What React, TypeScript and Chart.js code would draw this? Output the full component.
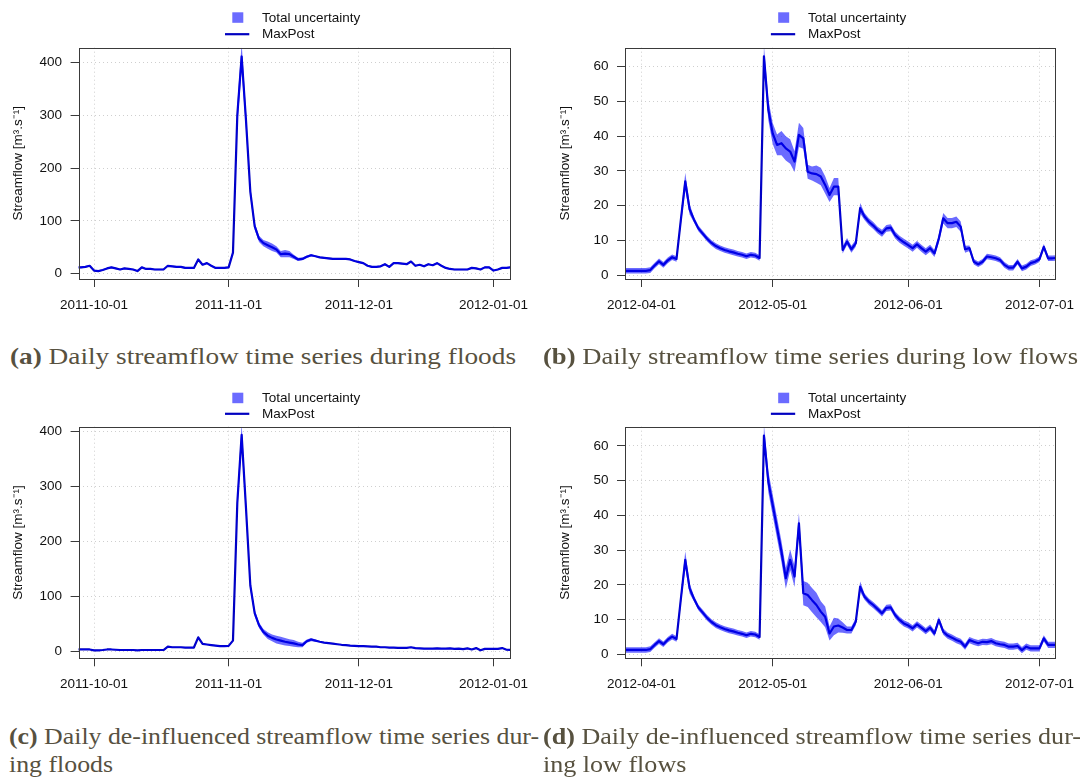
import React, { useEffect, useLayoutEffect, useRef } from 'react';
import { Chart, registerables } from 'chart.js';

Chart.register(...registerables);

// ---------- data ----------
// day offsets: flood panels relative to 2011-10-01, low-flow panels relative to 2012-04-01
const floodStartDay = -4;
const lowStartDay = -4;

const floodTickDays = [0, 31, 61, 92];
const floodTickLabels = ['2011-10-01', '2011-11-01', '2011-12-01', '2012-01-01'];
const lowTickDays = [0, 30, 61, 91];
const lowTickLabels = ['2012-04-01', '2012-05-01', '2012-06-01', '2012-07-01'];
const floodYTicks = [0, 100, 200, 300, 400];
const lowYTicks = [0, 10, 20, 30, 40, 50, 60];
const legendLabels = ['Total uncertainty', 'MaxPost'];
const yAxisTitle = 'Streamflow [m\u00B3.s\u207B\u00B9]';

// (a) daily streamflow during floods (MaxPost) and uncertainty half-width
const maxPostA = [
  12, 12, 13, 15, 6, 5, 7, 10, 12, 10,
  8, 10, 9, 8, 5, 12, 9, 9, 8, 8,
  8, 15, 14, 13, 13, 11, 11, 11, 27, 17,
  20, 15, 11, 11, 11, 12, 40, 300, 411, 290,
  155, 90, 66, 58, 54, 50, 46, 37, 38, 37,
  32, 27, 28, 32, 35, 33, 31, 30, 29, 28,
  28, 28, 28, 27, 24, 22, 20, 15, 13, 13,
  14, 18, 13, 20, 20, 19, 18, 23, 15, 17,
  14, 18, 16, 20, 15, 11, 9, 8, 8, 8,
  8, 11, 10, 8, 12, 12, 6, 8, 11, 11,
  12,
];
const uncA = [
  1.5, 1.5, 1.5, 1.5, 1.5, 1.5, 1.5, 1.5, 1.5, 1.5,
  1.5, 1.5, 1.5, 1.5, 1.5, 1.5, 1.5, 1.5, 1.5, 1.5,
  1.5, 1.5, 1.5, 1.5, 1.5, 1.5, 1.5, 1.5, 1.5, 1.5,
  1.5, 1.5, 1.5, 1.5, 1.5, 1.5, 4, 20, 25, 18,
  10, 7, 6, 6, 7, 7, 6, 6, 7, 6,
  4, 3, 2.5, 2.5, 2.5, 1.5, 1.5, 1.5, 1.5, 1.5,
  1.5, 1.5, 1.5, 1.5, 1.5, 1.5, 1.5, 1.5, 1.5, 1.5,
  1.5, 1.5, 1.5, 1.5, 1.5, 1.5, 1.5, 1.5, 1.5, 1.5,
  1.5, 1.5, 1.5, 1.5, 1.5, 1.5, 1.5, 1.5, 1.5, 1.5,
  1.5, 1.5, 1.5, 1.5, 1.5, 1.5, 1.5, 1.5, 1.5, 1.5,
  1.5,
];

// (b) daily streamflow during low flows
const maxPostB = [
  1.3, 1.3, 1.3, 1.3, 1.3, 1.3, 1.5, 2.8, 4.0, 3.0,
  4.3, 5.2, 4.7, 16, 27, 19, 16, 13.5, 12, 10.5,
  9.3, 8.4, 7.8, 7.3, 6.9, 6.6, 6.2, 5.9, 5.5, 5.9,
  5.7, 5.0, 63, 47.6, 40.8, 37.5, 38, 36.5, 35.6, 32.7,
  40.4, 39.4, 29.8, 29.3, 29.1, 28.4, 26, 23.1, 25.5, 25.5,
  7.3, 9.7, 7.5, 9.2, 19.3, 16.9, 15.4, 14.3, 13, 12.1,
  13.5, 13.7, 11.6, 10.4, 9.5, 8.7, 7.8, 8.9, 7.8, 6.8,
  7.8, 6.3, 10.6, 16.4, 15, 15, 15.4, 14, 7.5, 7.8,
  3.9, 3.2, 3.9, 5.4, 5.2, 4.9, 4.4, 3, 2.2, 2.2,
  3.9, 2, 2.5, 3.5, 3.9, 4.6, 8.2, 4.9, 4.9, 5,
];
const uncB = [
  0.8, 0.8, 0.8, 0.8, 0.8, 0.8, 0.8, 0.8, 0.8, 0.8,
  0.8, 0.8, 0.8, 1.5, 2.5, 1.5, 0.8, 0.8, 0.8, 0.8,
  0.8, 0.8, 0.8, 0.8, 0.8, 0.8, 0.8, 0.8, 0.8, 0.8,
  0.8, 0.8, 3, 3, 3, 3, 3.5, 3.5, 3.5, 3,
  3.5, 3, 2, 2, 2.5, 2.5, 2.5, 2, 2.5, 2.5,
  1, 1, 1, 1, 1.5, 1, 1, 1, 1, 1,
  1, 1, 1, 1, 1, 1, 1, 1, 1, 1,
  1, 1, 1.2, 1.5, 1.5, 1.5, 1.5, 1.5, 1, 0.8,
  0.8, 0.8, 0.8, 0.8, 0.8, 0.8, 0.8, 0.8, 0.8, 0.8,
  0.8, 0.8, 0.8, 0.8, 0.8, 0.8, 0.8, 0.8, 0.8, 0.8,
];

// (c) daily de-influenced streamflow during floods
const maxPostC = [
  4, 4, 4, 4, 2.5, 2.5, 3, 4, 4, 3.5,
  3, 3, 3, 3, 2.5, 3, 3, 3, 3, 3,
  3, 9, 8, 8, 8, 7.5, 7.5, 7.5, 26, 14,
  13, 12, 11, 10, 10, 10.5, 20, 270, 393, 260,
  120, 70, 48, 36, 29, 25, 22, 20, 18, 16.5,
  15, 13, 12, 19, 22, 20, 18, 16.5, 15.5, 14.5,
  13.5, 12.5, 12, 11, 10.5, 10, 10, 9.5, 9, 9,
  8, 8, 7.5, 7.5, 7, 7, 7, 8, 6.5, 6,
  5.5, 5.5, 5.5, 6, 5.5, 5.5, 6, 5, 5.5, 4.5,
  6, 4, 6.5, 2.5, 5, 5, 5, 5, 6.5, 3.5,
  3,
];
const uncC = [
  1, 1, 1, 1, 1, 1, 1, 1, 1, 1,
  1, 1, 1, 1, 1, 1, 1, 1, 1, 1,
  1, 1, 1, 1, 1, 1, 1, 1, 1, 1,
  1, 1, 1, 1, 1, 1, 1, 15, 20, 15,
  8, 6, 5, 5, 6, 6, 7, 7, 7, 6,
  6, 5, 4, 3, 3, 2, 1, 1, 1, 1,
  1, 1, 1, 1, 1, 1, 1, 1, 1, 1,
  1, 1, 1, 1, 1, 1, 1, 1, 1, 1,
  1, 1, 1, 1, 1, 1, 1, 1, 1, 1,
  1, 1, 1, 1, 1, 1, 1, 1, 1, 1,
  1,
];

// (d) daily de-influenced streamflow during low flows
const maxPostD = [
  1.25, 1.25, 1.25, 1.25, 1.25, 1.25, 1.5, 2.7, 3.8, 2.9,
  4.2, 5.1, 4.4, 16, 27.2, 19, 16, 13.5, 12, 10.5,
  9.3, 8.4, 7.8, 7.3, 6.9, 6.6, 6.2, 5.9, 5.5, 5.9,
  5.7, 5.0, 63, 49.7, 43, 36.3, 29.6, 21.9, 27.2, 22.4,
  37.7, 17.6, 17.1, 15.6, 14.2, 12.3, 10.8, 6, 8, 8.3,
  7.7, 7, 7, 9.4, 19.5, 16.6, 15.2, 14.2, 13, 11.8,
  13.4, 13.5, 11.3, 9.9, 8.9, 8.3, 7.5, 8.6, 7.7, 6.7,
  7.7, 6, 9.9, 6.5, 5.4, 4.8, 4.1, 3.6, 2.2, 4.1,
  3.6, 3.2, 3.6, 3.5, 3.8, 3.2, 2.9, 2.7, 2.2, 2.2,
  2.4, 1.2, 2.2, 1.7, 1.7, 1.7, 4.6, 2.7, 2.7, 2.7,
];
const uncD = [
  0.8, 0.8, 0.8, 0.8, 0.8, 0.8, 0.8, 0.8, 0.8, 0.8,
  0.8, 0.8, 0.8, 1.5, 2.5, 1.5, 0.8, 0.8, 0.8, 0.8,
  0.8, 0.8, 0.8, 0.8, 0.8, 0.8, 0.8, 0.8, 0.8, 0.8,
  0.8, 0.8, 3, 3, 3, 3, 3, 3, 3, 3,
  3, 3.5, 3.5, 3.5, 3.5, 3, 3, 2, 2.5, 2,
  1.5, 1, 1, 1, 1.5, 0.9, 0.9, 0.9, 0.9, 0.9,
  0.9, 0.9, 0.9, 0.9, 0.9, 0.9, 0.9, 0.9, 0.9, 0.9,
  0.9, 0.9, 0.9, 0.9, 0.9, 0.9, 0.9, 0.9, 0.9, 0.9,
  0.9, 0.9, 0.9, 0.9, 0.9, 0.9, 0.9, 0.9, 0.9, 0.9,
  0.9, 0.9, 0.9, 0.9, 0.9, 0.9, 0.9, 0.9, 0.9, 0.9,
];

const captionLabels = ['(a)', '(b)', '(c)', '(d)'];
const captionLines = [
  ['Daily streamflow time series during floods'],
  ['Daily streamflow time series during low flows'],
  ['Daily de-influenced streamflow time series dur-', 'ing floods'],
  ['Daily de-influenced streamflow time series dur-', 'ing low flows'],
];

// ---------- style ----------
const FONT = "'Liberation Sans', Arial, Helvetica, sans-serif";
const FONT_SIZE = 13.5;
const BAND = 'rgba(0,0,255,0.58)';
const LINE = '#0000c0';
const GRID = '#cfcfcf';
const AXIS = '#3a3a3a';
const TEXT = '#111111';
const CAPTION_COLOR = '#57513f';
const CAPTION_FONT = "'Liberation Serif', 'Times New Roman', serif";

type PanelSpec = {
  left: number; top: number; width: number; height: number;
  area: { left: number; right: number; top: number; bottom: number };
  xMin: number; xMax: number; yMin: number; yMax: number;
  start: number; values: number[]; unc: number[];
  xTicks: number[]; xLabels: string[]; yTicks: number[];
  titlePad: number; labelPad: number; legendY: [number, number];
};

const panels: PanelSpec[] = [
  {
    left: 0, top: 0, width: 560, height: 330,
    area: { left: 78.6, right: 510, top: 47.7, bottom: 279 },
    xMin: -3.55, xMax: 95.8, yMin: -10, yMax: 427.6,
    start: floodStartDay, values: maxPostA, unc: uncA,
    xTicks: floodTickDays, xLabels: floodTickLabels, yTicks: floodYTicks,
    titlePad: 9.9, labelPad: 8.6, legendY: [18.3, 34.7],
  },
  {
    left: 545, top: 0, width: 540, height: 330,
    area: { left: 80, right: 511.4, top: 47.7, bottom: 279 },
    xMin: -3.78, xMax: 94.65, yMin: -1.06, yMax: 65.46,
    start: lowStartDay, values: maxPostB, unc: uncB,
    xTicks: lowTickDays, xLabels: lowTickLabels, yTicks: lowYTicks,
    titlePad: 12.2, labelPad: 8.6, legendY: [18.3, 34.7],
  },
  {
    left: 0, top: 380, width: 560, height: 330,
    area: { left: 78.6, right: 510, top: 46.7, bottom: 278.3 },
    xMin: -3.55, xMax: 95.8, yMin: -12, yMax: 407.8,
    start: floodStartDay, values: maxPostC, unc: uncC,
    xTicks: floodTickDays, xLabels: floodTickLabels, yTicks: floodYTicks,
    titlePad: 9.9, labelPad: 8.6, legendY: [18.7, 34.3],
  },
  {
    left: 545, top: 380, width: 540, height: 330,
    area: { left: 80, right: 511.4, top: 46.7, bottom: 278.3 },
    xMin: -3.78, xMax: 94.65, yMin: -1.15, yMax: 65.55,
    start: lowStartDay, values: maxPostD, unc: uncD,
    xTicks: lowTickDays, xLabels: lowTickLabels, yTicks: lowYTicks,
    titlePad: 12.2, labelPad: 8.6, legendY: [18.7, 34.3],
  },
];

const captionBoxes = [
  { left: 10, right: 516, top: 342 },
  { left: 543, right: 1078, top: 342 },
  { left: 9, right: 539, top: 722 },
  { left: 543, right: 1081, top: 722 },
];

const boxPlugin = {
  id: 'rBox',
  afterDatasetsDraw(chart: any) {
    const { ctx, chartArea: a } = chart;
    ctx.save();
    ctx.strokeStyle = AXIS;
    ctx.lineWidth = 1;
    ctx.setLineDash([]);
    ctx.strokeRect(Math.round(a.left) + 0.5, Math.round(a.top) + 0.5,
      Math.round(a.right) - Math.round(a.left), Math.round(a.bottom) - Math.round(a.top));
    ctx.restore();
  },
};

function makeLegendPlugin(spec: PanelSpec) {
  return {
    id: 'rLegend',
    afterDraw(chart: any) {
      const { ctx, chartArea: a } = chart;
      const ds = chart.data.datasets;
      const cx = (a.left + a.right) / 2;
      const [y1, y2] = spec.legendY;
      ctx.save();
      ctx.fillStyle = ds[1].backgroundColor;
      ctx.fillRect(cx - 56.5 - 5.5, y1 - 6, 11, 10.5);
      ctx.strokeStyle = ds[2].borderColor;
      ctx.lineWidth = 2.2;
      ctx.beginPath();
      ctx.moveTo(cx - 69.3, y2 - 0.5);
      ctx.lineTo(cx - 45, y2 - 0.5);
      ctx.stroke();
      ctx.fillStyle = TEXT;
      ctx.font = `${FONT_SIZE}px ${FONT}`;
      ctx.textAlign = 'left';
      ctx.textBaseline = 'middle';
      ctx.fillText(ds[1].label, cx - 32.3, y1);
      ctx.fillText(ds[2].label, cx - 32.3, y2);
      ctx.restore();
    },
  };
}

function Panel({ spec }: { spec: PanelSpec }) {
  const ref = useRef<HTMLCanvasElement | null>(null);
  useEffect(() => {
    const s = spec;
    const main = s.values.map((v, i) => ({ x: s.start + i, y: v }));
    const lower = s.values.map((v, i) => ({ x: s.start + i, y: v - s.unc[i] }));
    const upper = s.values.map((v, i) => ({ x: s.start + i, y: v + s.unc[i] }));
    const font = { family: FONT, size: FONT_SIZE };
    const gridOpts = { color: GRID, lineWidth: 1, tickLength: 8, tickColor: AXIS, tickWidth: 1, drawTicks: true };
    const chart = new Chart(ref.current as HTMLCanvasElement, {
      type: 'line',
      data: {
        datasets: [
          { label: 'lower', data: lower, borderColor: 'rgba(0,0,0,0)', borderWidth: 1, pointRadius: 0, fill: false, clip: 0 } as any,
          { label: legendLabels[0], data: upper, borderColor: 'rgba(0,0,0,0)', borderWidth: 1, pointRadius: 0, backgroundColor: BAND, fill: '-1', clip: 0 } as any,
          { label: legendLabels[1], data: main, borderColor: LINE, borderWidth: 2.2, pointRadius: 0, fill: false, clip: 0, tension: 0, borderJoinStyle: 'round' } as any,
        ],
      },
      options: {
        animation: false,
        responsive: false,
        maintainAspectRatio: false,
        events: [],
        layout: { padding: { left: 0, top: s.area.top, right: s.width - s.area.right, bottom: 0 } },
        plugins: { legend: { display: false }, tooltip: { enabled: false } },
        scales: {
          x: {
            type: 'linear', position: 'bottom', min: s.xMin, max: s.xMax,
            afterBuildTicks: (sc: any) => { sc.ticks = s.xTicks.map((v) => ({ value: v })); },
            afterFit: (sc: any) => { sc.height = s.height - s.area.bottom; },
            ticks: {
              autoSkip: false, maxRotation: 0, minRotation: 0, padding: 10, color: TEXT, font,
              callback: (v: any) => { const k = s.xTicks.indexOf(Number(v)); return k >= 0 ? s.xLabels[k] : ''; },
            },
            grid: gridOpts,
            border: { display: false, dash: [1, 3] },
          },
          y: {
            type: 'linear', position: 'left', min: s.yMin, max: s.yMax,
            afterBuildTicks: (sc: any) => { sc.ticks = s.yTicks.map((v) => ({ value: v })); },
            afterFit: (sc: any) => { sc.width = s.area.left; },
            ticks: { padding: s.labelPad, color: TEXT, font, callback: (v: any) => String(v) },
            grid: gridOpts,
            border: { display: false, dash: [1, 3] },
            title: { display: true, text: yAxisTitle, color: TEXT, font, padding: { top: s.titlePad, bottom: 0 } },
          },
        },
      } as any,
      plugins: [boxPlugin, makeLegendPlugin(s)],
    });
    return () => chart.destroy();
  }, [spec]);
  return (
    <canvas
      ref={ref}
      width={spec.width}
      height={spec.height}
      style={{ position: 'absolute', left: spec.left, top: spec.top, width: spec.width, height: spec.height }}
    />
  );
}

function Caption({ label, lines, box }: { label: string; lines: string[]; box: { left: number; right: number; top: number } }) {
  const ref = useRef<HTMLDivElement | null>(null);
  useLayoutEffect(() => {
    const el = ref.current as HTMLDivElement;
    const fit = () => {
      const first = el.querySelector('[data-line="0"]') as HTMLElement;
      el.style.transform = 'none';
      const w = first.getBoundingClientRect().width;
      if (w > 0) el.style.transform = `scaleX(${(box.right - box.left) / w})`;
    };
    fit();
    const f: any = (document as any).fonts;
    if (f && f.ready) f.ready.then(fit);
  }, []);
  return (
    <div
      ref={ref}
      style={{
        position: 'absolute', left: box.left, top: box.top, transformOrigin: '0 0',
        fontFamily: CAPTION_FONT, fontSize: 24, lineHeight: '28px', color: CAPTION_COLOR, whiteSpace: 'nowrap',
      }}
    >
      {lines.map((ln, i) => (
        <div key={i}>
          <span data-line={i} style={{ display: 'inline-block' }}>
            {i === 0 ? <b>{label}</b> : null}
            {i === 0 ? '\u00A0' : ''}
            {ln}
          </span>
        </div>
      ))}
    </div>
  );
}

export default function App() {
  return (
    <div style={{ position: 'absolute', left: 0, top: 0, width: 1085, height: 778, overflow: 'hidden', background: '#ffffff' }}>
      {panels.map((p, i) => <Panel key={i} spec={p} />)}
      {captionLabels.map((lab, i) => (
        <Caption key={lab} label={lab} lines={captionLines[i]} box={captionBoxes[i]} />
      ))}
    </div>
  );
}
